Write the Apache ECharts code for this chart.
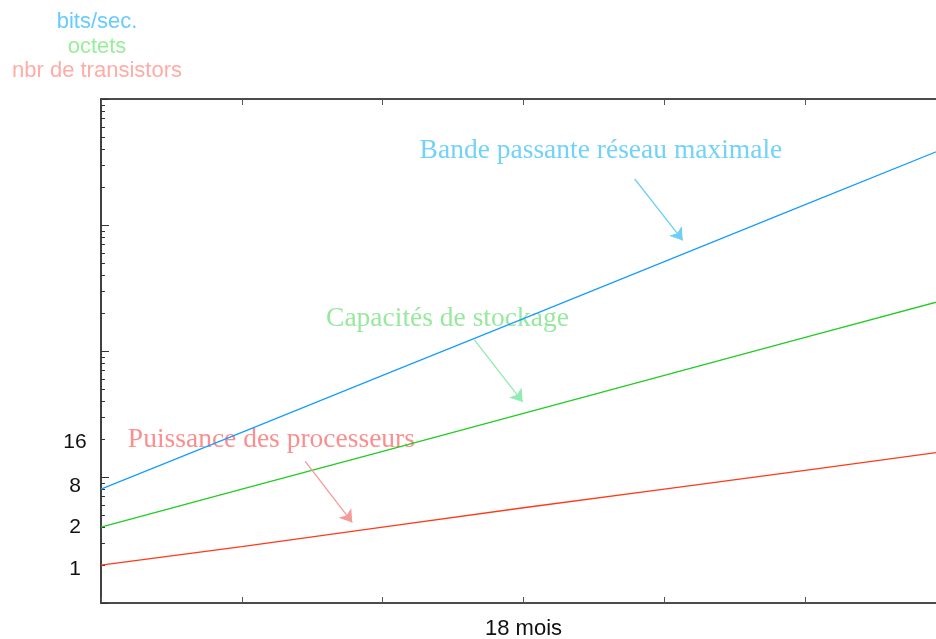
<!DOCTYPE html>
<html>
<head>
<meta charset="utf-8">
<script src="https://cdn.jsdelivr.net/npm/echarts@6/dist/echarts.min.js"></script>
<style>
  html, body { margin: 0; padding: 0; background: #fff; }
  #chart { width: 936px; height: 639px; }
</style>
</head>
<body>
<div id="chart"></div>
<script>
// abscisse : pas de 18 mois
var periods = [0, 1, 2, 3, 4, 5, 6];
var xTickLabels = ['', '', '', '18 mois', '', '', ''];

var transistors = [2, 2.8, 4, 5.7, 8, 11.3, 16];
var stockage = [4, 8, 16, 32, 64, 128, 256];
var bandePassante = [8, 22.6, 64, 181, 512, 1450, 4096];

var yMajorTicks = [1, 10, 100, 1000, 10000];
var yMinorTicks = [2, 3, 4, 5, 6, 7, 8, 9,
  20, 30, 40, 50, 60, 70, 80, 90,
  200, 300, 400, 500, 600, 700, 800, 900,
  2000, 3000, 4000, 5000, 6000, 7000, 8000, 9000];
var yLabelText = ['1', '2', '8', '16'];
var yLabelAt = [1.86, 4, 8.5, 19];

var unitNames = ['nbr de transistors', 'octets', 'bits/sec.'];

// annotations (coordonnees dans le repere du graphique)
var annoText = ['Puissance des processeurs', 'Capacités de stockage', 'Bande passante réseau maximale'];
var annoAt = [[1.21, 19.8], [2.46, 179], [3.55, 3890]];
var arrowFrom = [[1.45, 13.3], [2.65, 123], [3.79, 2317]];
var arrowTo = [[1.784, 4.36], [2.994, 39.4], [4.131, 755]];

var lineColors = ['#ff3a1a', '#22cc22', '#1a9cff'];
var annoColors = ['#fb8f8f', '#99e8a0', '#72d2f8'];
var arrowColors = ['#f59a9a', '#90ebb0', '#6ccff5'];
var unitColors = ['#ffaca6', '#99ee99', '#66ccff'];

var sans = 'Liberation Sans';
var serif = 'Liberation Serif';

function pairs(ys) {
  return periods.map(function (p, i) { return [p, ys[i]]; });
}

function labelFor(v) {
  var best = 0;
  for (var i = 1; i < yLabelAt.length; i++) {
    if (Math.abs(yLabelAt[i] - v) < Math.abs(yLabelAt[best] - v)) best = i;
  }
  return yLabelText[best];
}

function makeSeries(name, ys, k) {
  return {
    name: name,
    type: 'line',
    data: pairs(ys),
    showSymbol: false,
    symbol: 'none',
    z: 3,
    lineStyle: { color: lineColors[k], width: 1.3 },
    markPoint: {
      silent: true,
      z: 1,
      symbol: 'circle',
      symbolSize: 1,
      itemStyle: { color: 'rgba(0,0,0,0)' },
      label: {
        show: true,
        position: 'inside',
        formatter: '{b}',
        fontFamily: serif,
        fontSize: 27.5,
        color: annoColors[k]
      },
      data: [{ name: annoText[k], coord: annoAt[k] }]
    },
    markLine: {
      silent: true,
      symbol: ['none', 'arrow'],
      symbolSize: 12,
      label: { show: false },
      lineStyle: { color: arrowColors[k], width: 1.3, type: 'solid' },
      itemStyle: { color: arrowColors[k] },
      data: [[{ coord: arrowFrom[k] }, { coord: arrowTo[k] }]]
    }
  };
}

var axisLineStyle = { color: '#111', width: 1.6 };

var chart = echarts.init(document.getElementById('chart'));
chart.setOption({
  animation: false,
  grid: { left: 101, top: 99, width: 845, bottom: 36, outerBoundsMode: 'none' },
  xAxis: [{
    type: 'value', min: 0, max: 6, interval: 1,
    axisLine: { show: true, onZero: false, lineStyle: axisLineStyle },
    axisTick: { show: true, inside: true, length: 6, lineStyle: { color: '#555', width: 1 } },
    axisLabel: {
      margin: 15, fontFamily: sans, fontSize: 22, color: '#111',
      formatter: function (v) { return xTickLabels[v] || ''; }
    },
    splitLine: { show: false }
  }, {
    type: 'value', position: 'top', min: 0, max: 6, interval: 1,
    axisLine: { show: true, onZero: false, lineStyle: axisLineStyle },
    axisTick: { show: true, inside: true, length: 6, lineStyle: { color: '#555', width: 1 } },
    axisLabel: { show: false },
    splitLine: { show: false }
  }],
  yAxis: [0, 1, 2].map(function (k) {
    return {
      type: 'log', logBase: 10, min: 1, max: 10000,
      position: 'left',
      offset: 0,
      name: unitNames[k],
      nameLocation: 'end',
      nameGap: [28, 52, 77][k],
      nameTextStyle: {
        fontFamily: sans, fontSize: 22, color: unitColors[k],
        verticalAlign: 'middle', padding: [0, 8, 0, 0]
      },
      axisLine: { show: k === 0, onZero: false, lineStyle: axisLineStyle },
      axisTick: {
        show: k < 2, inside: true,
        length: k === 0 ? 8 : 4,
        customValues: k === 0 ? yMajorTicks : yMinorTicks,
        lineStyle: { color: '#333', width: 1 }
      },
      axisLabel: {
        show: k === 0,
        customValues: yLabelAt,
        align: 'center',
        margin: 26,
        fontFamily: sans, fontSize: 21, color: '#111',
        formatter: function (v) { return labelFor(v); }
      },
      splitLine: { show: false },
      minorTick: { show: false }
    };
  }),
  series: [
    makeSeries('Puissance des processeurs', transistors, 0),
    makeSeries('Capacités de stockage', stockage, 1),
    makeSeries('Bande passante réseau maximale', bandePassante, 2)
  ]
});
</script>
</body>
</html>
